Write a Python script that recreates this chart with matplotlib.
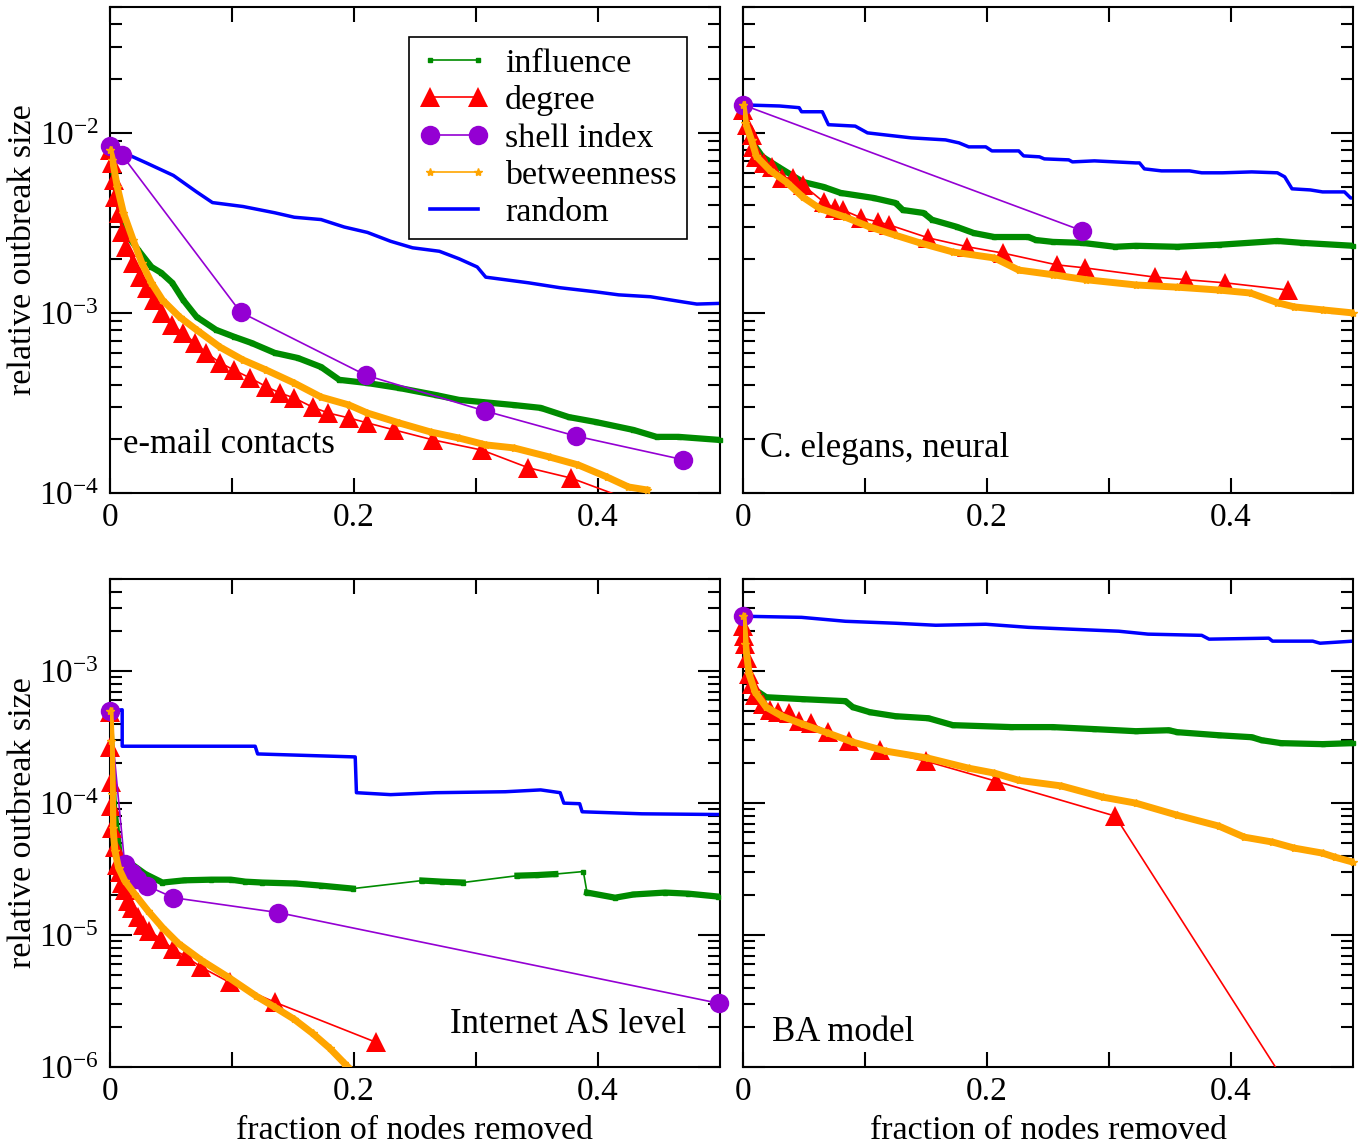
import numpy as np
import matplotlib
matplotlib.use("Agg")
import matplotlib.pyplot as plt
from matplotlib.lines import Line2D
from matplotlib.ticker import LogLocator, FixedLocator, FixedFormatter, NullFormatter

plt.rcParams['font.family'] = ['Liberation Serif', 'DejaVu Serif']
plt.rcParams['mathtext.fontset'] = 'custom'
plt.rcParams['mathtext.rm'] = 'Liberation Serif'
plt.rcParams['font.size'] = 24

# ---------------- e-mail contacts ----------------
email_rand_x = [0, .030, .052, .071, .084, .109, .135, .151, .173, .192, .211, .230, .248,
                .270, .286, .301, .308, .343, .369, .398, .417, .443, .470, .481, .5]
email_rand = [8.4e-3, 6.8e-3, 5.8e-3, 4.7e-3, 4.1e-3, 3.9e-3, 3.6e-3, 3.4e-3, 3.3e-3, 3.0e-3,
              2.8e-3, 2.5e-3, 2.3e-3, 2.2e-3, 2.0e-3, 1.8e-3, 1.58e-3, 1.47e-3, 1.38e-3,
              1.31e-3, 1.26e-3, 1.23e-3, 1.15e-3, 1.12e-3, 1.13e-3]

email_infl_x = [0, .006, .013, .023, .034, .042, .051, .060, .071, .087, .102, .116, .135, .154,
                .173, .188, .211, .237, .267, .286, .305, .331, .353, .376, .398, .429, .448,
                .466, .5]
email_infl = [8.3e-3, 4.25e-3, 2.78e-3, 2.24e-3, 1.80e-3, 1.67e-3, 1.47e-3, 1.18e-3, 9.5e-4,
              8.05e-4, 7.36e-4, 6.81e-4, 6.0e-4, 5.62e-4, 5.01e-4, 4.25e-4, 4.08e-4, 3.83e-4,
              3.50e-4, 3.29e-4, 3.2e-4, 3.08e-4, 2.97e-4, 2.64e-4, 2.48e-4, 2.24e-4, 2.05e-4,
              2.05e-4, 1.97e-4]

email_betw_x = [0, .002, .006, .011, .019, .026, .034, .043, .057, .071, .090, .109, .128,
                .151, .173, .196, .211, .237, .263, .286, .308, .331, .361, .384, .407, .425,
                .440]
email_betw = [8.0e-3, 7.1e-3, 5.0e-3, 3.6e-3, 2.54e-3, 1.90e-3, 1.47e-3, 1.18e-3, 9.5e-4,
              8.05e-4, 6.47e-4, 5.48e-4, 4.82e-4, 4.08e-4, 3.41e-4, 3.08e-4, 2.78e-4, 2.45e-4,
              2.18e-4, 2.02e-4, 1.85e-4, 1.78e-4, 1.58e-4, 1.43e-4, 1.23e-4, 1.08e-4, 1.04e-4]

email_deg_x = [0, .002, .003, .004, .007, .010, .013, .019, .025, .030, .036, .043, .051, .060,
               .070, .079, .090, .102, .115, .128, .139, .151, .166, .179, .196, .211, .233,
               .265, .305, .343, .378, .443]
email_deg = [8.0e-3, 6.8e-3, 5.5e-3, 4.4e-3, 3.6e-3, 2.8e-3, 2.33e-3, 1.90e-3, 1.58e-3, 1.38e-3,
             1.18e-3, 1.0e-3, 8.6e-4, 7.7e-4, 6.8e-4, 6.0e-4, 5.3e-4, 4.8e-4, 4.35e-4, 3.9e-4,
             3.6e-4, 3.37e-4, 3.0e-4, 2.78e-4, 2.61e-4, 2.45e-4, 2.24e-4, 1.97e-4, 1.73e-4,
             1.38e-4, 1.21e-4, 8.3e-5]

email_shell_x = [0, .010, .107, .210, .307, .382, .470]
email_shell = [8.4e-3, 7.5e-3, 1.01e-3, 4.5e-4, 2.86e-4, 2.07e-4, 1.53e-4]

# ---------------- C. elegans, neural ----------------
elegans_rand_x = [0, .030, .046, .048, .065, .070, .092, .102, .116, .138, .166, .177, .185,
                  .199, .204, .226, .230, .243, .247, .267, .270, .288, .322, .325, .329, .343,
                  .366, .376, .393, .417, .438, .444, .450, .465, .475, .493, .498, .5]
elegans_rand = [1.43e-2, 1.41e-2, 1.38e-2, 1.31e-2, 1.31e-2, 1.11e-2, 1.09e-2, 1.0e-2, 9.75e-3,
                9.38e-3, 9.14e-3, 8.8e-3, 8.36e-3, 8.36e-3, 7.94e-3, 7.94e-3, 7.45e-3, 7.36e-3,
                7.17e-3, 7.08e-3, 6.9e-3, 6.99e-3, 6.81e-3, 6.81e-3, 6.31e-3, 6.15e-3, 6.15e-3,
                6.0e-3, 6.0e-3, 6.07e-3, 6.0e-3, 5.7e-3, 4.89e-3, 4.82e-3, 4.7e-3, 4.7e-3,
                4.35e-3, 4.35e-3]

elegans_infl_x = [0, .003, .008, .016, .029, .049, .066, .080, .107, .125, .131, .148, .155,
                  .175, .189, .206, .234, .240, .254, .278, .305, .322, .356, .390, .438, .458,
                  .5]
elegans_infl = [1.43e-2, 1.08e-2, 8.8e-3, 7.36e-3, 6.47e-3, 5.34e-3, 5.01e-3, 4.64e-3, 4.35e-3,
                4.08e-3, 3.73e-3, 3.59e-3, 3.29e-3, 3.01e-3, 2.78e-3, 2.64e-3, 2.64e-3, 2.54e-3,
                2.48e-3, 2.45e-3, 2.33e-3, 2.36e-3, 2.33e-3, 2.39e-3, 2.51e-3, 2.45e-3, 2.36e-3]

elegans_betw_x = [0, .002, .007, .011, .022, .036, .049, .063, .084, .104, .125, .145, .172,
                  .206, .226, .254, .281, .322, .356, .390, .416, .438, .452, .475, .5]
elegans_betw = [1.43e-2, 1.14e-2, 9.1e-3, 7.4e-3, 6.2e-3, 5.3e-3, 4.4e-3, 3.8e-3, 3.4e-3, 3.0e-3,
                2.7e-3, 2.45e-3, 2.18e-3, 2.02e-3, 1.73e-3, 1.63e-3, 1.53e-3, 1.43e-3, 1.39e-3,
                1.34e-3, 1.29e-3, 1.14e-3, 1.08e-3, 1.04e-3, 1.0e-3]

elegans_deg_x = [0, .003, .007, .008, .011, .017, .024, .032, .041, .049, .066, .075, .082,
                 .097, .111, .120, .152, .184, .213, .257, .280, .338, .363, .395, .447]
elegans_deg = [1.34e-2, 1.11e-2, 9.75e-3, 8.36e-3, 7.36e-3, 6.81e-3, 6.47e-3, 5.62e-3, 5.62e-3,
               5.14e-3, 4.14e-3, 3.83e-3, 3.73e-3, 3.37e-3, 3.2e-3, 3.08e-3, 2.61e-3, 2.33e-3,
               2.15e-3, 1.85e-3, 1.78e-3, 1.58e-3, 1.53e-3, 1.47e-3, 1.34e-3]

elegans_shell_x = [0, .278]
elegans_shell = [1.43e-2, 2.86e-3]

# ---------------- Internet AS level ----------------
as_rand_x = [0, .010, .010, .119, .121, .201, .202, .230, .267, .324, .353, .369, .372, .385,
             .387, .436, .498]
as_rand = [5.0e-4, 5.1e-4, 2.7e-4, 2.7e-4, 2.36e-4, 2.24e-4, 1.2e-4, 1.16e-4, 1.2e-4, 1.22e-4,
           1.26e-4, 1.2e-4, 1.0e-4, 9.9e-5, 8.6e-5, 8.3e-5, 8.2e-5]

# influence ranking comes in runs of closely spaced points joined by plain segments
as_infl_runs = [
    ([0, .003, .008, .029, .043, .061, .083, .099, .111, .125, .152, .173, .199],
     [5.0e-4, 1.0e-4, 4.0e-5, 2.9e-5, 2.5e-5, 2.6e-5, 2.63e-5, 2.63e-5, 2.54e-5, 2.5e-5,
      2.46e-5, 2.37e-5, 2.25e-5]),
    ([.256, .272, .289], [2.59e-5, 2.54e-5, 2.5e-5]),
    ([.334, .350, .365], [2.82e-5, 2.85e-5, 2.9e-5]),
    ([.388], [3.03e-5]),
    ([.391, .414, .429, .455, .474, .498], [2.1e-5, 1.92e-5, 2.03e-5, 2.1e-5, 2.06e-5, 1.96e-5]),
]

as_betw_x = [0, .001, .002, .0025, .004, .007, .012, .020, .031, .043, .056, .075, .097, .120,
             .135, .151, .166, .180, .192, .196]
as_betw = [5.0e-4, 2.96e-4, 1.18e-4, 6.5e-5, 4.36e-5, 3.24e-5, 2.59e-5, 2.06e-5, 1.53e-5,
           1.14e-5, 8.65e-6, 6.43e-6, 4.79e-6, 3.44e-6, 2.84e-6, 2.3e-6, 1.8e-6, 1.39e-6,
           1.07e-6, 9.8e-7]

as_deg_x = [0, .0003, .0006, .001, .002, .004, .006, .008, .010, .012, .015, .018, .023, .027,
            .032, .042, .052, .062, .075, .098, .135, .218]
as_deg = [4.9e-4, 2.67e-4, 1.45e-4, 9.5e-5, 6.5e-5, 4.67e-5, 3.42e-5, 3.0e-5, 2.5e-5, 2.2e-5,
          1.8e-5, 1.6e-5, 1.38e-5, 1.2e-5, 1.08e-5, 9.27e-6, 7.79e-6, 6.89e-6, 5.69e-6,
          4.38e-6, 3.1e-6, 1.54e-6]

as_shell_x = [0, .012, .018, .022, .030, .052, .138, .499]
as_shell = [5.0e-4, 3.48e-5, 2.97e-5, 2.68e-5, 2.37e-5, 1.92e-5, 1.48e-5, 3.04e-6]

# ---------------- BA model ----------------
ba_rand_x = [0, .048, .084, .125, .158, .199, .234, .270, .308, .332, .376, .382, .431, .434,
             .467, .473, .5]
ba_rand = [2.61e-3, 2.56e-3, 2.39e-3, 2.31e-3, 2.23e-3, 2.27e-3, 2.15e-3, 2.08e-3, 2.01e-3,
           1.91e-3, 1.87e-3, 1.75e-3, 1.78e-3, 1.69e-3, 1.69e-3, 1.63e-3, 1.69e-3]

ba_infl_x = [0, .002, .003, .008, .019, .049, .084, .090, .104, .125, .152, .172, .220, .254,
             .288, .322, .349, .356, .390, .417, .425, .441, .475, .5]
ba_infl = [2.6e-3, 1.6e-3, 1.17e-3, 7.43e-4, 6.35e-4, 6.14e-4, 5.93e-4, 5.34e-4, 4.89e-4,
           4.56e-4, 4.4e-4, 3.9e-4, 3.77e-4, 3.77e-4, 3.64e-4, 3.51e-4, 3.57e-4, 3.45e-4,
           3.27e-4, 3.16e-4, 3.0e-4, 2.85e-4, 2.8e-4, 2.85e-4]

ba_betw_x = [0, .002, .005, .010, .019, .032, .049, .070, .090, .117, .152, .185, .206, .226,
             .261, .295, .322, .356, .390, .411, .434, .452, .475, .485, .5]
ba_betw = [2.6e-3, 1.6e-3, 9.5e-4, 6.93e-4, 5.34e-4, 4.56e-4, 3.96e-4, 3.39e-4, 2.9e-4, 2.48e-4,
           2.19e-4, 1.84e-4, 1.69e-4, 1.49e-4, 1.35e-4, 1.11e-4, 1.0e-4, 8.1e-5, 6.7e-5,
           5.52e-5, 5.07e-5, 4.56e-5, 4.18e-5, 3.9e-5, 3.57e-5]

ba_deg_x = [0, .001, .002, .003, .005, .007, .010, .016, .022, .029, .038, .046, .056, .070,
            .087, .112, .150, .207, .305, .5]
ba_deg = [2.2e-3, 1.84e-3, 1.6e-3, 1.25e-3, 9.5e-4, 7.97e-4, 6.58e-4, 5.62e-4, 5.07e-4,
          4.89e-4, 4.81e-4, 4.18e-4, 4.04e-4, 3.45e-4, 2.95e-4, 2.52e-4, 2.08e-4, 1.47e-4,
          7.98e-5, 1.2e-7]

ba_shell_x = [0]
ba_shell = [2.6e-3]

GREEN = '#008b00'
RED = '#ff0000'
VIOLET = '#9400d3'
ORANGE = '#ffa500'
BLUE = '#0000ff'


def markers(ax, x, y, lo, **kw):
    # symbols are not clipped at the frame, but nothing below the range is drawn
    x = np.asarray(x, float)
    y = np.asarray(y, float)
    keep = y >= lo
    ax.plot(x[keep], y[keep], linestyle='none', clip_on=False, **kw)


def panel(ax, ylim, infl_runs, deg, shell, betw, rand, label, label_pos, ha='left',
          ylabels=True):
    ax.set_yscale('log')
    ax.set_xlim(0, 0.5)
    ax.set_ylim(*ylim)
    lo = ylim[0]

    ax.plot(rand[0], rand[1], color=BLUE, lw=2.5, zorder=2)

    ix = np.concatenate([r[0] for r in infl_runs])
    iy = np.concatenate([r[1] for r in infl_runs])
    ax.plot(ix, iy, color=GREEN, lw=1.2, zorder=3)
    for rx, ry in infl_runs:
        ax.plot(rx, ry, color=GREEN, lw=4.5, zorder=3)
    markers(ax, ix, iy, lo, marker='s', ms=3.5, color=GREEN, zorder=3)

    ax.plot(deg[0], deg[1], color=RED, lw=1.2, zorder=4)
    markers(ax, deg[0], deg[1], lo, marker='^', ms=14, color=RED, mew=0, zorder=4)

    ax.plot(shell[0], shell[1], color=VIOLET, lw=1.2, zorder=5)
    markers(ax, shell[0], shell[1], lo, marker='o', ms=14, color=VIOLET, mew=0, zorder=5)

    ax.plot(betw[0], betw[1], color=ORANGE, lw=1.2, zorder=6)
    ax.plot(betw[0], betw[1], color=ORANGE, lw=5.0, zorder=6)
    markers(ax, betw[0], betw[1], lo, marker='*', ms=6, color=ORANGE, zorder=6)

    ax.yaxis.set_major_locator(LogLocator(base=10, numticks=12))
    ax.yaxis.set_minor_locator(LogLocator(base=10, subs=np.arange(2, 10), numticks=12))
    ax.yaxis.set_minor_formatter(NullFormatter())
    ax.xaxis.set_major_locator(FixedLocator([0, 0.2, 0.4]))
    ax.xaxis.set_major_formatter(FixedFormatter(['0', '0.2', '0.4']))
    ax.xaxis.set_minor_locator(FixedLocator([0.1, 0.3]))

    ax.tick_params(which='both', direction='in', top=True, right=True, width=1.5,
                   labelsize=24)
    ax.tick_params(axis='y', which='major', length=16, pad=8, labelleft=ylabels)
    ax.tick_params(axis='y', which='minor', length=8.5)
    ax.tick_params(axis='x', which='both', length=11, pad=7)
    for sp in ax.spines.values():
        sp.set_linewidth(1.5)

    ax.text(label_pos[0], label_pos[1], label, transform=ax.transAxes, ha=ha, va='center',
            fontsize=25, zorder=10)


fig = plt.figure(figsize=(13.72, 11.46), dpi=100)
ax_tl = fig.add_axes([0.08017, 0.56981, 0.44461, 0.42408])
ax_tr = fig.add_axes([0.54155, 0.56981, 0.44461, 0.42408])
ax_bl = fig.add_axes([0.08017, 0.06894, 0.44461, 0.42583])
ax_br = fig.add_axes([0.54155, 0.06894, 0.44461, 0.42583])

top_lim = (1e-4, 5e-2)
bottom_lim = (1e-6, 5e-3)

panel(ax_tl, top_lim, [(email_infl_x, email_infl)], (email_deg_x, email_deg),
      (email_shell_x, email_shell), (email_betw_x, email_betw), (email_rand_x, email_rand),
      'e-mail contacts', (0.021, 0.100))
panel(ax_tr, top_lim, [(elegans_infl_x, elegans_infl)], (elegans_deg_x, elegans_deg),
      (elegans_shell_x, elegans_shell), (elegans_betw_x, elegans_betw),
      (elegans_rand_x, elegans_rand), 'C. elegans, neural', (0.028, 0.092), ylabels=False)
panel(ax_bl, bottom_lim, as_infl_runs, (as_deg_x, as_deg), (as_shell_x, as_shell),
      (as_betw_x, as_betw), (as_rand_x, as_rand), 'Internet AS level', (0.944, 0.088),
      ha='right')
panel(ax_br, bottom_lim, [(ba_infl_x, ba_infl)], (ba_deg_x, ba_deg), (ba_shell_x, ba_shell),
      (ba_betw_x, ba_betw), (ba_rand_x, ba_rand), 'BA model', (0.048, 0.070), ylabels=False)

for ax in (ax_tl, ax_bl):
    ax.set_ylabel('relative outbreak size', fontsize=24.5)
    ax.yaxis.set_label_coords(-0.118, 0.5)
for ax in (ax_bl, ax_br):
    ax.set_xlabel('fraction of nodes removed', fontsize=24.5)
    ax.xaxis.set_label_coords(0.5, -0.1)

handles = [
    Line2D([], [], color=GREEN, lw=1.2, marker='s', ms=3.5),
    Line2D([], [], color=RED, lw=1.2, marker='^', ms=14, mew=0),
    Line2D([], [], color=VIOLET, lw=1.2, marker='o', ms=14, mew=0),
    Line2D([], [], color=ORANGE, lw=1.2, marker='*', ms=6),
    Line2D([], [], color=BLUE, lw=2.6),
]
names = ['influence', 'degree', 'shell index', 'betweenness', 'random']
leg = ax_tl.legend(handles, names, loc='upper left', bbox_to_anchor=(0.49, 0.938),
                   borderaxespad=0, numpoints=2, fontsize=24.5, handlelength=2.0,
                   handletextpad=0.5, labelspacing=0.19, borderpad=0.32, fancybox=False,
                   framealpha=1, edgecolor='black')
leg.get_frame().set_linewidth(1.2)
leg.set_zorder(20)

fig.savefig('out.png', dpi=100)
